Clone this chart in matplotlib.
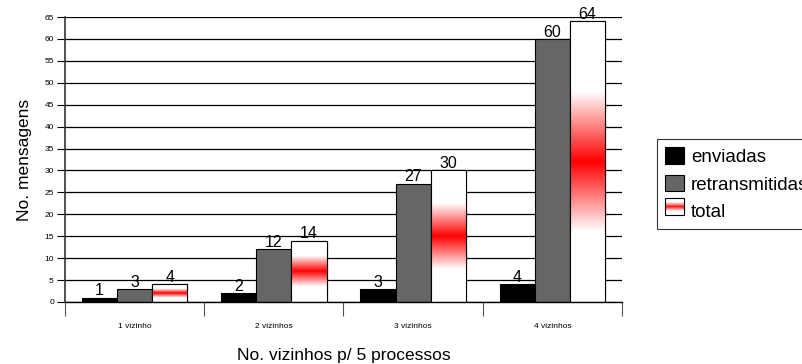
import numpy as np
import matplotlib.pyplot as plt
from matplotlib.colors import LinearSegmentedColormap
from matplotlib.legend_handler import HandlerBase
from matplotlib.patches import Rectangle

plt.rcParams['font.family'] = ['Liberation Sans', 'DejaVu Sans']

categorias = ['1 vizinho', '2 vizinhos', '3 vizinhos', '4 vizinhos']
enviadas = [1, 2, 3, 4]
retransmitidas = [3, 12, 27, 60]
total = [4, 14, 30, 64]

# gradiente branco -> vermelho -> branco
cmap = LinearSegmentedColormap.from_list(
    'grad', [(0, 'white'), (0.25, 'white'), (0.5, 'red'), (0.75, 'white'), (1, 'white')])


class GradHandler(HandlerBase):
    def create_artists(self, legend, orig, xd, yd, w, h, fontsize, trans):
        arts = []
        n = 20
        for i in range(n):
            c = cmap((i + 0.5) / n)
            arts.append(Rectangle((xd, yd + h * i / n), w, h / n + 0.05,
                                  facecolor=c, edgecolor='none', transform=trans))
        arts.append(Rectangle((xd, yd), w, h, facecolor='none', edgecolor='black',
                              linewidth=0.8, transform=trans))
        return arts


fig = plt.figure(figsize=(8.03, 3.64), dpi=100)
ax = fig.add_axes([65 / 803, 62 / 364, 557 / 803, 285 / 364])

x = np.arange(len(categorias))
w = 0.252

ax.set_axisbelow(True)
ax.yaxis.grid(True, color='black', linewidth=0.9)

b1 = ax.bar(x - w, enviadas, w, color='black', edgecolor='black', linewidth=0.8, zorder=2)
b2 = ax.bar(x, retransmitidas, w, color='#666666', edgecolor='black', linewidth=0.8, zorder=2)
b3 = ax.bar(x + w, total, w, color='white', edgecolor='black', linewidth=0.8, zorder=2)

grad = np.linspace(0, 1, 256).reshape(-1, 1)
for bar in b3:
    bx, by = bar.get_x(), bar.get_y()
    bw, bh = bar.get_width(), bar.get_height()
    im = ax.imshow(grad, cmap=cmap, aspect='auto', origin='lower',
                   extent=[bx, bx + bw, by, by + bh], zorder=2.5, interpolation='bilinear')
    im.set_clip_path(bar)
    ax.add_patch(Rectangle((bx, by), bw, bh, facecolor='none', edgecolor='black',
                           linewidth=0.8, zorder=3))

for bars, vals in [(b1, enviadas), (b2, retransmitidas), (b3, total)]:
    for bar, v in zip(bars, vals):
        ax.text(bar.get_x() + bar.get_width() / 2, v - 0.2, str(v),
                ha='center', va='bottom', fontsize=11.5, zorder=4)

ax.set_xlim(-0.5, 3.5)
ax.set_ylim(0, 65)
ax.set_yticks(range(0, 66, 5))
ax.tick_params(axis='y', labelsize=6, length=6, width=0.8, direction='out', pad=2)

ax.set_xticks(x)
ax.set_xticklabels(categorias, fontsize=6)
ax.tick_params(axis='x', which='major', length=0, pad=15)
ax.set_xticks(np.arange(-0.5, 4, 1), minor=True)
ax.tick_params(axis='x', which='minor', length=10, width=0.8, color='#555555')

for s in ['top', 'right']:
    ax.spines[s].set_visible(False)
ax.spines['left'].set_linewidth(1.2)
ax.spines['left'].set_color('#333333')
ax.spines['bottom'].set_linewidth(1.0)

ax.set_ylabel('No. mensagens', fontsize=12.5, labelpad=9)
ax.set_xlabel('No. vizinhos p/ 5 processos', fontsize=12.5, labelpad=13)

leg = fig.legend([b1, b2, b3[0]], ['enviadas', 'retransmitidas', 'total'],
                 handler_map={b3[0]: GradHandler()},
                 loc='upper left', bbox_to_anchor=(657 / 803, 1 - 139 / 364),
                 fontsize=13.5, frameon=True, fancybox=False, handlelength=1.0,
                 handleheight=1.0, handletextpad=0.35, labelspacing=0.45,
                 borderpad=0.45, borderaxespad=0)
leg.get_frame().set_edgecolor('black')
leg.get_frame().set_linewidth(0.8)

fig.savefig('out.png', dpi=100)
